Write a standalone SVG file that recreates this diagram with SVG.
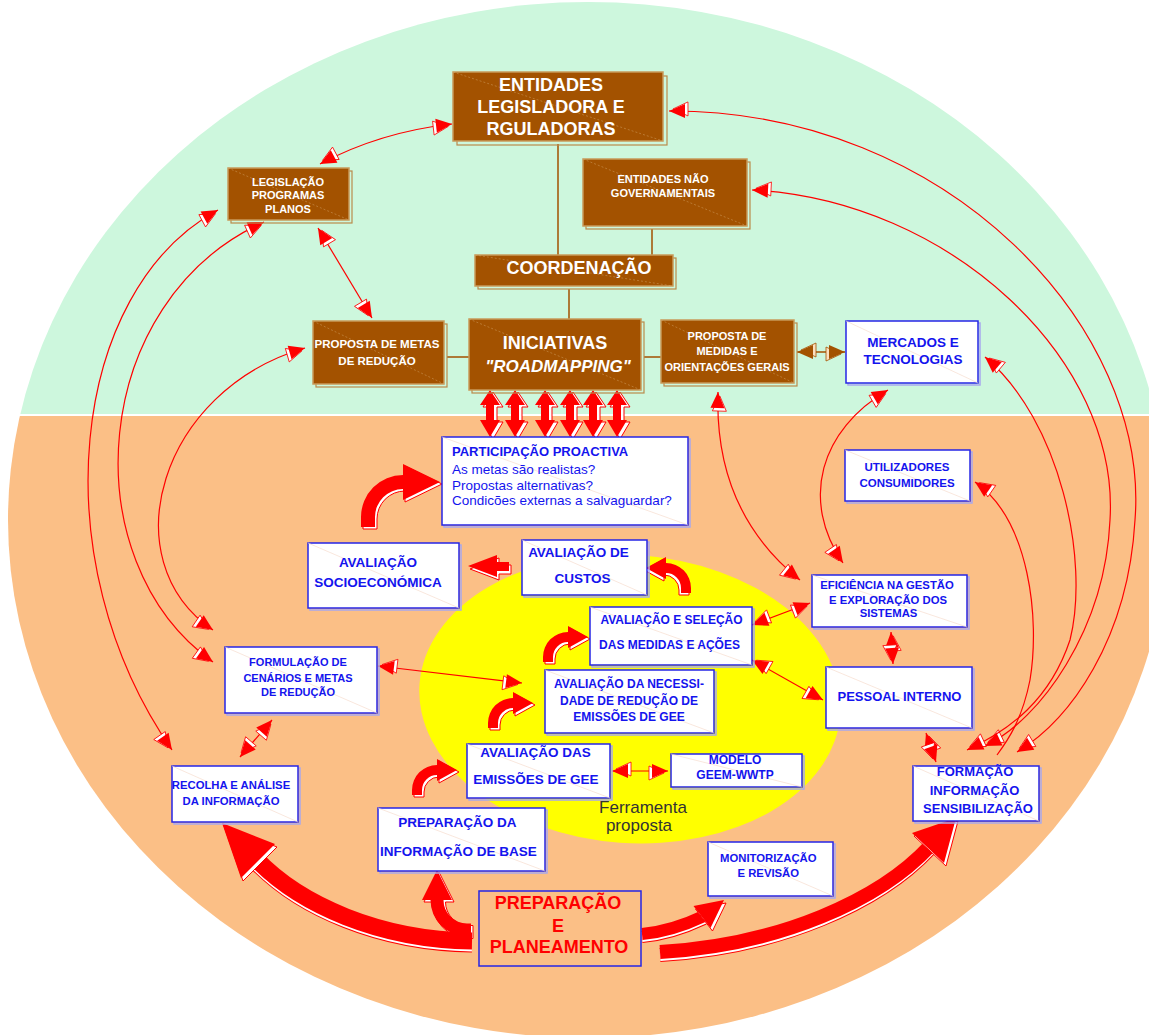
<svg xmlns="http://www.w3.org/2000/svg" width="1149" height="1035" viewBox="0 0 1149 1035">
<defs>
<style>
text{font-family:"Liberation Sans",Arial,sans-serif;font-weight:bold}
.tw{fill:#fff}
.tb{fill:#1414ee}
.c{text-anchor:middle}
.bx{fill:#a35200;stroke:#c89a5a;stroke-width:1.5}
.bs{fill:none;stroke:#b98a4c;stroke-width:1.2}
.wb{fill:#fff;stroke:#2626e6;stroke-width:1.5}
.ws{fill:none;stroke:#a8a8ee;stroke-width:1.5}
.dgb{stroke:#d4a46a;stroke-width:.8;stroke-dasharray:2 2;opacity:.6}
.dgw{stroke:#f6dccf;stroke-width:.7}
.ln{fill:none;stroke:#f00;stroke-width:1.2}
.both{marker-start:url(#ah);marker-end:url(#ah)}
.bl{fill:none;stroke:#a35200;stroke-width:1.5}
.rf{fill:#f00}
.rs{fill:#fff;stroke:#f00;stroke-width:1}
.s1{fill:none;stroke:#f00}
.s2{fill:none;stroke:#fff}
</style>
<clipPath id="oval"><ellipse cx="588" cy="520" rx="580" ry="518"/></clipPath>
<marker id="ah" viewBox="-4 -1 21 18" markerWidth="21" markerHeight="18" refX="16" refY="7" orient="auto-start-reverse" markerUnits="userSpaceOnUse">
<path d="M-3,2 L12,9 L-3,16 Z" fill="#fff" stroke="#f00" stroke-width=".8"/>
<path d="M0,0 L16,7 L0,14 Z" fill="#f00"/>
</marker>
<marker id="bh" viewBox="-4 -1 21 18" markerWidth="21" markerHeight="18" refX="16" refY="7" orient="auto-start-reverse" markerUnits="userSpaceOnUse">
<path d="M-3,2 L12,9 L-3,16 Z" fill="#fbe0c0" stroke="#a35200" stroke-width=".8"/>
<path d="M0,0 L16,7 L0,14 Z" fill="#a35200"/>
</marker>
<!-- double-headed block arrow, drawn at x=0 -->
<polygon id="dblp" points="0,390 10,405 4,405 4,420 10,420 0,437 -10,420 -4,420 -4,405 -10,405"/>
<g id="dbl"><use href="#dblp" class="rs" transform="translate(3,2)"/><use href="#dblp" class="rf"/></g>
<!-- small curved block arrow: tail at origin, head pointing right -->
<path id="hk" d="M-5,0 L-5,-5 A25,25 0 0 1 20,-30 L20,-36 L40,-25 L20,-14 L20,-20 A15,15 0 0 0 5,-5 L5,0 Z"/>
<g id="hk3"><use href="#hk" class="rs" transform="translate(2,2)"/><use href="#hk" class="rf"/></g>
<path id="hkL" d="M-7,0 L-7,-10 A42,42 0 0 1 35,-52 L35,-63 L72,-45 L35,-27 L35,-38 A28,28 0 0 0 7,-10 L7,0 Z"/>
<path id="hkP" d="M-6.5,0 L-6.5,-4 A36.5,36.5 0 0 1 30,-40.5 L30,-49 L60,-34 L30,-19 L30,-27.5 A23.5,23.5 0 0 0 6.5,-4 L6.5,0 Z"/>
</defs>

<!-- background oval: consultation sphere above, organisation below -->
<rect width="1149" height="1035" fill="#fff"/>
<g clip-path="url(#oval)">
<rect x="0" y="0" width="1149" height="414" fill="#cdf7dd"/>
<rect x="0" y="416" width="1149" height="620" fill="#fbbf86"/>
</g>
<ellipse cx="630" cy="699" rx="211" ry="144" fill="#ffff00" transform="rotate(4 630 699)"/>

<g id="connectors">
<!-- brown organisational links -->
<path class="bl" d="M558,144 V255 M652,229 V255 M569,289 V319 M447,357 H469 M644,357 H661"/>
<path class="bl" d="M797,352 H845" marker-start="url(#bh)" marker-end="url(#bh)"/>

<!-- thin red links -->
<path class="ln both" d="M320,164 Q380,132 452,124"/>
<path class="ln both" d="M318,228 L372,318"/>
<path class="ln both" d="M218,210 C70,290 40,560 172,750"/>
<path class="ln both" d="M264,222 C90,300 70,560 213,662"/>
<path class="ln both" d="M305,348 C160,390 110,560 213,630"/>
<path class="ln both" d="M669,111 C950,110 1150,330 1135,520 C1128,640 1070,720 1017,752"/>
<path class="ln both" d="M752,190 C950,200 1120,360 1110,520 C1105,630 1040,720 985,746"/>
<path class="ln both" d="M985,357 C1060,420 1090,560 1070,640 C1050,700 1010,730 967,750"/>
<path class="ln" marker-start="url(#ah)" d="M975,482 C1030,520 1040,620 1030,680 C1022,720 1008,740 997,755"/>
<path class="ln both" d="M718,392 C715,480 750,540 800,580"/>
<path class="ln both" d="M888,390 C820,430 800,500 843,563"/>
<path class="ln both" d="M810,603 L752,625"/>
<path class="ln both" d="M891,632 L893,664"/>
<path class="ln both" d="M752,660 L823,700"/>
<path class="ln both" d="M926,733 L936,762"/>
<path class="ln both" d="M378,666 L522,683"/>
<path class="ln both" d="M272,720 L240,757"/>
<path class="ln both" d="M612,771 L668,771"/>

<!-- participation arrows under the roadmapping initiative -->
<use href="#dbl" x="490"/>
<use href="#dbl" x="515"/>
<use href="#dbl" x="545"/>
<use href="#dbl" x="570"/>
<use href="#dbl" x="593"/>
<use href="#dbl" x="617"/>

<!-- curved block arrows -->
<g transform="translate(368,527)"><use href="#hkL" class="rs" transform="translate(2,2)"/><use href="#hkL" class="rf"/></g>
<use href="#hk3" transform="translate(686,593) scale(-1,1)"/>
<use href="#hk3" transform="translate(548,662)"/>
<use href="#hk3" transform="translate(493,728)"/>
<use href="#hk3" transform="translate(417,795)"/>
<g transform="matrix(0,-1,1,0,471,930)"><use href="#hkP" class="rs" transform="translate(-2,2)"/><use href="#hkP" class="rf"/></g>

<!-- straight block arrow towards socio-economic evaluation -->
<polygon class="rs" transform="translate(2,3)" points="509,562 497,562 497,555 468,566 497,577 497,571 509,571"/>
<polygon class="rf" points="509,562 497,562 497,555 468,566 497,577 497,571 509,571"/>

<!-- sweeping arrows out of planning -->
<g>
<path class="s1" stroke-width="17" transform="translate(0,3)" d="M472,941 C380,940 300,905 256,859"/>
<path class="s2" stroke-width="15" transform="translate(0,3)" d="M472,941 C380,940 300,905 256,859"/>
<path class="s1" stroke-width="17" d="M472,941 C380,940 300,905 256,859"/>
<polygon class="rs" transform="translate(2,3)" points="222,823 275,844 241,878"/>
<polygon class="rf" points="222,823 275,844 241,878"/>
</g>
<g>
<path class="s1" stroke-width="14" transform="translate(0,3)" d="M660,952 C780,945 880,900 930,846"/>
<path class="s2" stroke-width="12" transform="translate(0,3)" d="M660,952 C780,945 880,900 930,846"/>
<path class="s1" stroke-width="14" d="M660,952 C780,945 880,900 930,846"/>
<polygon class="rs" transform="translate(2,3)" points="956,818 944,863 912,833"/>
<polygon class="rf" points="956,818 944,863 912,833"/>
</g>
<g>
<path class="s1" stroke-width="12" transform="translate(0,3)" d="M642,934 C665,932 685,925 704,916"/>
<path class="s2" stroke-width="10" transform="translate(0,3)" d="M642,934 C665,932 685,925 704,916"/>
<path class="s1" stroke-width="12" d="M642,934 C665,932 685,925 704,916"/>
<polygon class="rs" transform="translate(2,3)" points="724,900 710.5,928 693.5,906"/>
<polygon class="rf" points="724,900 710.5,928 693.5,906"/>
</g>
</g>

<!-- brown boxes: institutional level -->
<g id="n-entidades">
<rect class="bs" x="457" y="76" width="210" height="69"/>
<rect class="bx" x="453" y="72" width="210" height="69"/>
<line class="dgb" x1="453" y1="72" x2="663" y2="141"/>
<text class="tw c" font-size="18"><tspan x="551" y="91">ENTIDADES</tspan><tspan x="551" y="113">LEGISLADORA E</tspan><tspan x="551" y="135">RGULADORAS</tspan></text>
</g>
<g id="n-legislacao">
<rect class="bs" x="231" y="171" width="121" height="52"/>
<rect class="bx" x="228" y="168" width="121" height="52"/>
<line class="dgb" x1="228" y1="168" x2="349" y2="220"/>
<text class="tw c" font-size="11"><tspan x="288" y="185.5">LEGISLAÇÃO</tspan><tspan x="288" y="199">PROGRAMAS</tspan><tspan x="288" y="213">PLANOS</tspan></text>
</g>
<g id="n-ong">
<rect class="bs" x="586" y="162" width="164" height="67"/>
<rect class="bx" x="583" y="159" width="164" height="67"/>
<line class="dgb" x1="583" y1="159" x2="747" y2="226"/>
<text class="tw c" font-size="11"><tspan x="663" y="183">ENTIDADES NÃO</tspan><tspan x="663" y="197">GOVERNAMENTAIS</tspan></text>
</g>
<g id="n-coordenacao">
<rect class="bs" x="478" y="258" width="198" height="31"/>
<rect class="bx" x="475" y="255" width="198" height="31"/>
<line class="dgb" x1="475" y1="255" x2="673" y2="286"/>
<text class="tw c" font-size="18" x="579" y="274">COORDENAÇÃO</text>
</g>
<g id="n-iniciativas">
<rect class="bs" x="472" y="322" width="172" height="71"/>
<rect class="bx" x="469" y="319" width="172" height="71"/>
<line class="dgb" x1="469" y1="319" x2="641" y2="390"/>
<text class="tw c" font-size="18" x="555" y="349">INICIATIVAS</text>
<text class="tw c" font-size="17" font-style="italic" x="558" y="372">"ROADMAPPING"</text>
</g>
<g id="n-metas">
<rect class="bs" x="316" y="324" width="131" height="63"/>
<rect class="bx" x="313" y="321" width="131" height="63"/>
<line class="dgb" x1="313" y1="321" x2="444" y2="384"/>
<text class="tw c" font-size="11.5"><tspan x="377" y="348">PROPOSTA DE METAS</tspan><tspan x="377" y="365">DE REDUÇÃO</tspan></text>
</g>
<g id="n-medidas">
<rect class="bs" x="664" y="323" width="133" height="63"/>
<rect class="bx" x="661" y="320" width="133" height="63"/>
<line class="dgb" x1="661" y1="320" x2="794" y2="383"/>
<text class="tw c" font-size="11"><tspan x="727" y="340">PROPOSTA DE</tspan><tspan x="727" y="355">MEDIDAS E</tspan><tspan x="727" y="371">ORIENTAÇÕES GERAIS</tspan></text>
</g>

<!-- white boxes: stakeholders and assessment steps -->
<g id="n-mercados">
<rect class="ws" x="848" y="323" width="132" height="62"/>
<rect class="wb" x="846" y="321" width="132" height="62"/>
<line class="dgw" x1="846" y1="321" x2="978" y2="383"/>
<text class="tb c" font-size="13.5"><tspan x="913" y="347">MERCADOS E</tspan><tspan x="913" y="364">TECNOLOGIAS</tspan></text>
</g>
<g id="n-participacao">
<rect class="ws" x="444" y="439" width="246" height="88"/>
<rect class="wb" x="442" y="437" width="246" height="88"/>
<line class="dgw" x1="442" y1="437" x2="688" y2="525"/>
<text class="tb" font-size="13" x="452" y="456">PARTICIPAÇÃO PROACTIVA</text>
<text class="tb" font-size="13.5" style="font-weight:normal"><tspan x="452" y="474">As metas são realistas?</tspan><tspan x="452" y="489.5">Propostas alternativas?</tspan><tspan x="452" y="505">Condicões externas a salvaguardar?</tspan></text>
</g>
<g id="n-utilizadores">
<rect class="ws" x="847" y="452" width="125" height="51"/>
<rect class="wb" x="845" y="450" width="125" height="51"/>
<line class="dgw" x1="845" y1="450" x2="970" y2="501"/>
<text class="tb c" font-size="11.5"><tspan x="907" y="471">UTILIZADORES</tspan><tspan x="907" y="487">CONSUMIDORES</tspan></text>
</g>
<g id="n-socio">
<rect class="ws" x="310" y="545" width="151" height="65"/>
<rect class="wb" x="308" y="543" width="151" height="65"/>
<line class="dgw" x1="308" y1="543" x2="459" y2="608"/>
<text class="tb c" font-size="13.5"><tspan x="378" y="567">AVALIAÇÃO</tspan><tspan x="378" y="587">SOCIOECONÓMICA</tspan></text>
</g>
<g id="n-custos">
<rect class="ws" x="524" y="542" width="125" height="55"/>
<rect class="wb" x="522" y="540" width="125" height="55"/>
<line class="dgw" x1="522" y1="540" x2="647" y2="595"/>
<text class="tb c" font-size="13.5"><tspan x="578.5" y="557">AVALIAÇÃO DE</tspan><tspan x="582.5" y="583">CUSTOS</tspan></text>
</g>
<g id="n-selecao">
<rect class="ws" x="592" y="609" width="162" height="58"/>
<rect class="wb" x="590" y="607" width="162" height="58"/>
<line class="dgw" x1="590" y1="607" x2="752" y2="665"/>
<text class="tb c" font-size="12"><tspan x="671.5" y="624">AVALIAÇÃO E SELEÇÃO</tspan><tspan x="669.5" y="649">DAS MEDIDAS E AÇÕES</tspan></text>
</g>
<g id="n-eficiencia">
<rect class="ws" x="814" y="577" width="155" height="52"/>
<rect class="wb" x="812" y="575" width="155" height="52"/>
<line class="dgw" x1="812" y1="575" x2="967" y2="627"/>
<text class="tb c" font-size="11.3"><tspan x="887" y="588.5">EFICIÊNCIA NA GESTÃO</tspan><tspan x="888" y="604">E EXPLORAÇÃO DOS</tspan><tspan x="888.5" y="617">SISTEMAS</tspan></text>
</g>
<g id="n-pessoal">
<rect class="ws" x="828" y="669" width="146" height="61"/>
<rect class="wb" x="826" y="667" width="146" height="61"/>
<line class="dgw" x1="826" y1="667" x2="972" y2="728"/>
<text class="tb c" font-size="13" x="899.5" y="700.7">PESSOAL INTERNO</text>
</g>
<g id="n-formulacao">
<rect class="ws" x="227" y="649" width="152" height="66"/>
<rect class="wb" x="225" y="647" width="152" height="66"/>
<line class="dgw" x1="225" y1="647" x2="377" y2="713"/>
<text class="tb c" font-size="11"><tspan x="298" y="666">FORMULAÇÃO DE</tspan><tspan x="298" y="682">CENÁRIOS E METAS</tspan><tspan x="298" y="695.5">DE REDUÇÃO</tspan></text>
</g>
<g id="n-necessidade">
<rect class="ws" x="547" y="672" width="169" height="63"/>
<rect class="wb" x="545" y="670" width="169" height="63"/>
<line class="dgw" x1="545" y1="670" x2="714" y2="733"/>
<text class="tb c" font-size="12"><tspan x="629" y="688">AVALIAÇÃO DA NECESSI-</tspan><tspan x="629" y="705">DADE DE REDUÇÃO DE</tspan><tspan x="629" y="721">EMISSÕES DE GEE</tspan></text>
</g>
<g id="n-recolha">
<rect class="ws" x="174" y="768" width="126" height="56"/>
<rect class="wb" x="172" y="766" width="126" height="56"/>
<line class="dgw" x1="172" y1="766" x2="298" y2="822"/>
<text class="tb c" font-size="11.3"><tspan x="231" y="789">RECOLHA E ANÁLISE</tspan><tspan x="231" y="804.5">DA INFORMAÇÃO</tspan></text>
</g>
<g id="n-emissoes">
<rect class="ws" x="469" y="746" width="143" height="54"/>
<rect class="wb" x="467" y="744" width="143" height="54"/>
<line class="dgw" x1="467" y1="744" x2="610" y2="798"/>
<text class="tb c" font-size="13.5"><tspan x="535.5" y="757">AVALIAÇÃO DAS</tspan><tspan x="536" y="784">EMISSÕES DE GEE</tspan></text>
</g>
<g id="n-modelo">
<rect class="ws" x="673" y="756" width="131" height="33"/>
<rect class="wb" x="671" y="754" width="131" height="33"/>
<line class="dgw" x1="671" y1="754" x2="802" y2="787"/>
<text class="tb c" font-size="12"><tspan x="735" y="763.5">MODELO</tspan><tspan x="735" y="778.5">GEEM-WWTP</tspan></text>
</g>
<g id="n-ferramenta">
<text class="c" font-size="17" fill="#333" style="font-weight:normal"><tspan x="643" y="813">Ferramenta</tspan><tspan x="639" y="831">proposta</tspan></text>
</g>
<g id="n-prepinfo">
<rect class="ws" x="380" y="810" width="167" height="63"/>
<rect class="wb" x="378" y="808" width="167" height="63"/>
<line class="dgw" x1="378" y1="808" x2="545" y2="871"/>
<text class="tb c" font-size="13.5"><tspan x="457.5" y="827">PREPARAÇÃO DA</tspan><tspan x="458.5" y="856">INFORMAÇÃO DE BASE</tspan></text>
</g>
<g id="n-monitorizacao">
<rect class="ws" x="710" y="844" width="125" height="54"/>
<rect class="wb" x="708" y="842" width="125" height="54"/>
<line class="dgw" x1="708" y1="842" x2="833" y2="896"/>
<text class="tb c" font-size="11.3"><tspan x="768.3" y="862">MONITORIZAÇÃO</tspan><tspan x="768.3" y="877">E REVISÃO</tspan></text>
</g>
<g id="n-planeamento">
<rect x="479" y="891" width="162" height="75" fill="#fbbf86" stroke="#2626e6" stroke-width="1.5"/>
<text class="c" font-size="18" fill="#f00"><tspan x="558" y="908.5">PREPARAÇÃO</tspan><tspan x="558" y="932">E</tspan><tspan x="559" y="953">PLANEAMENTO</tspan></text>
</g>
<g id="n-formacao">
<rect class="ws" x="915" y="768" width="126" height="55"/>
<rect class="wb" x="913" y="766" width="126" height="55"/>
<line class="dgw" x1="913" y1="766" x2="1039" y2="821"/>
<text class="tb c" font-size="13"><tspan x="975" y="776">FORMAÇÃO</tspan><tspan x="974.5" y="794.5">INFORMAÇÃO</tspan><tspan x="978" y="812.5">SENSIBILIZAÇÃO</tspan></text>
</g>
</svg>
